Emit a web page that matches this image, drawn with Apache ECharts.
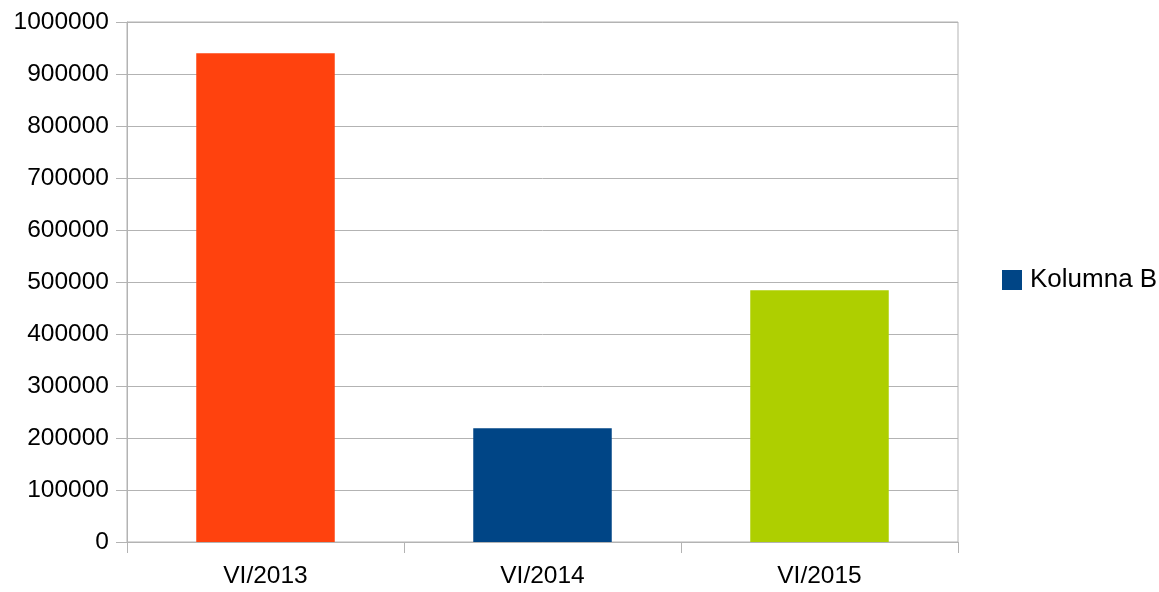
<!DOCTYPE html>
<html>
<head>
<meta charset="utf-8">
<script src="https://cdn.jsdelivr.net/npm/echarts@6/dist/echarts.min.js"></script>
<style>
html,body{margin:0;padding:0;background:#fff;}
#chart{width:1159px;height:592px;}
</style>
</head>
<body>
<div id="chart"></div>
<script>
const categories = ['VI/2013', 'VI/2014', 'VI/2015'];
const values = [940000, 218700, 484000];
const seriesName = 'Kolumna B';
const yTicks = [0, 100000, 200000, 300000, 400000, 500000, 600000, 700000, 800000, 900000, 1000000];

const barColors = ['#ff420e', '#004586', '#aecf00'];
const gridColor = '#b3b3b3';
const font = '"Liberation Sans", Arial, sans-serif';

const chart = echarts.init(document.getElementById('chart'), null, {renderer: 'canvas'});
chart.setOption({
  animation: false,
  backgroundColor: '#ffffff',
  grid: {
    left: 127, top: 22, width: 831, height: 520,
    show: true, borderColor: gridColor, borderWidth: 1, backgroundColor: 'transparent'
  },
  legend: {
    data: [seriesName],
    left: 997, top: 262,
    icon: 'rect', itemWidth: 20, itemHeight: 20, itemGap: 8,
    textStyle: {fontFamily: font, fontSize: 26, color: '#000', padding: [0, 0, 0, 3]}
  },
  xAxis: {
    type: 'category',
    data: categories,
    boundaryGap: true,
    axisLine: {show: true, lineStyle: {color: gridColor, width: 1}},
    axisTick: {show: true, length: 11, interval: 0, lineStyle: {color: gridColor}},
    axisLabel: {fontFamily: font, fontSize: 24.5, color: '#000', margin: 22, interval: 0}
  },
  yAxis: {
    type: 'value',
    min: yTicks[0], max: yTicks[yTicks.length - 1], interval: yTicks[1] - yTicks[0],
    axisLine: {show: true, lineStyle: {color: gridColor, width: 1}},
    axisTick: {show: true, length: 11, lineStyle: {color: gridColor}},
    splitLine: {show: true, lineStyle: {color: gridColor, width: 1}},
    axisLabel: {fontFamily: font, fontSize: 24.5, color: '#000', margin: 18,
      formatter: v => String(v)}
  },
  series: [{
    name: seriesName,
    type: 'bar',
    barWidth: '50%',
    itemStyle: {color: '#004586'},
    data: values.map((v, i) => ({value: v, itemStyle: {color: barColors[i]}}))
  }]
});
</script>
</body>
</html>
